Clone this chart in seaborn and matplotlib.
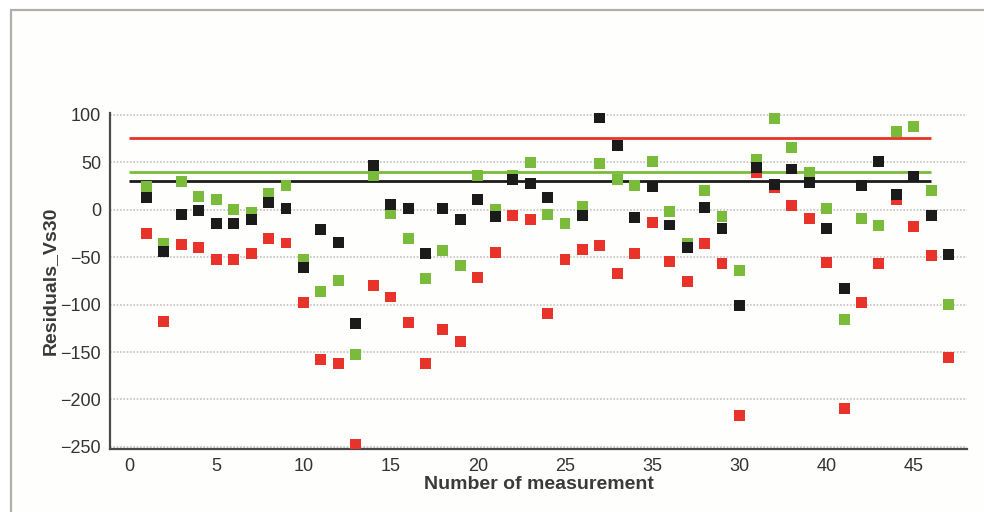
import numpy as np
import pandas as pd
import matplotlib
matplotlib.use("Agg")
import matplotlib.pyplot as plt
from matplotlib.patches import Rectangle
import seaborn as sns

# ---------------- data ----------------
measurement = list(range(1, 48))

black_vals = [13, -44, -5, -1, -14, -14, -10, 8, 1, -61,
              -21, -34, -120, 47, 6, 1, -46, 1, -10, 11,
              -7, 32, 28, 13, np.nan, -6, 97, 68, -8, 25,
              -16, -40, 2, -20, -101, 45, 27, 43, 29, -20,
              -83, 26, 51, 16, 35, -6, -47]

green_vals = [25, -36, 30, 14, 11, 0, -3, 17, 26, -52,
              -86, -75, -153, 36, -4, -30, -72, -43, -59, 36,
              0, 36, 50, -5, -14, 4, 49, 32, 26, 51,
              -2, -36, 20, -7, -64, 53, 96, 66, 39, 1,
              -116, -9, -17, 83, 88, 20, -100]

red_vals = [-25, -118, -37, -40, -52, -52, -46, -30, -35, -98,
            -158, -162, -247, -80, -92, -119, -162, -126, -139, -71,
            -45, -6, -10, -109, -52, -42, -38, -67, -46, -13,
            -55, -76, -36, -57, -217, 39, 23, 5, -9, -56,
            -210, -98, -57, 11, -18, -48, -156]

threshold_red = 76
threshold_green = 40
threshold_black = 30
threshold_span = [0, 46]

xtick_pos = [0, 5, 10, 15, 20, 25, 30, 35, 40, 45]
xtick_labels = ["0", "5", "10", "15", "20", "25", "35", "30", "40", "45"]
ytick_pos = [100, 50, 0, -50, -100, -150, -200, -250]

# ---------------- style ----------------
sns.set_style("white")
plt.rcParams["font.family"] = ["Liberation Sans", "DejaVu Sans"]

RED = "#e8332b"
GREEN = "#7bbb3b"
BLACK = "#1b1b1b"
TXT = "#333333"

fig = plt.figure(figsize=(9.84, 5.12), dpi=100, facecolor="white")
# outer frame like the reference
frame = Rectangle((11 / 984, -0.2), 1.3, (1 - 10 / 512) + 0.2,
                  transform=fig.transFigure, facecolor="#fefefc",
                  edgecolor="#b5aea8", linewidth=1.6, zorder=-10)
fig.patches.append(frame)

ax = fig.add_axes([110 / 984, 1 - 449 / 512, (967 - 110) / 984, (449 - 113) / 512])
ax.set_zorder(5)
ax.set_facecolor("none")

df = pd.DataFrame({"n": measurement, "black": black_vals,
                   "green": green_vals, "red": red_vals})

# grid lines (dotted)
for yv in ytick_pos:
    ax.axhline(yv, color="#c9c3c0", linestyle=(0, (1, 1)), linewidth=1.2, zorder=1)

# threshold lines
ax.hlines(threshold_red, *threshold_span, color=RED, linewidth=2.0, zorder=2)
ax.hlines(threshold_green, *threshold_span, color=GREEN, linewidth=2.0, zorder=2)
ax.hlines(threshold_black, *threshold_span, color=BLACK, linewidth=2.0, zorder=2)

ms = 62
sns.scatterplot(data=df, x="n", y="red", ax=ax, marker="s", s=ms, color=RED,
                edgecolor="none", zorder=3)
sns.scatterplot(data=df, x="n", y="green", ax=ax, marker="s", s=ms, color=GREEN,
                edgecolor="none", zorder=4)
sns.scatterplot(data=df, x="n", y="black", ax=ax, marker="s", s=ms, color=BLACK,
                edgecolor="none", zorder=5)

ax.set_xlim(-1.09, 48.05)
ax.set_ylim(-252.3, 102.1)
ax.set_xticks(xtick_pos)
ax.set_xticklabels(xtick_labels)
ax.set_yticks(ytick_pos)
ax.set_yticklabels(["100", "50", "0", "\u221250", "\u2212100", "\u2212150", "\u2212200", "\u2212250"])

for side in ["top", "right"]:
    ax.spines[side].set_visible(False)
for side in ["left", "bottom"]:
    ax.spines[side].set_color("#4a4a4a")
    ax.spines[side].set_linewidth(1.6)

ax.tick_params(axis="both", which="major", direction="out", length=5, width=1.2,
               color="#4a4a4a", labelsize=13, labelcolor=TXT, pad=1.5)

ax.set_xlabel("Number of measurement", fontsize=14, color="#3a3a3a",
              fontweight="bold", labelpad=1)
ax.set_ylabel("Residuals_Vs30", fontsize=14, color="#3a3a3a",
              fontweight="bold", labelpad=1)

fig.savefig("out.png", dpi=100, facecolor="white")
